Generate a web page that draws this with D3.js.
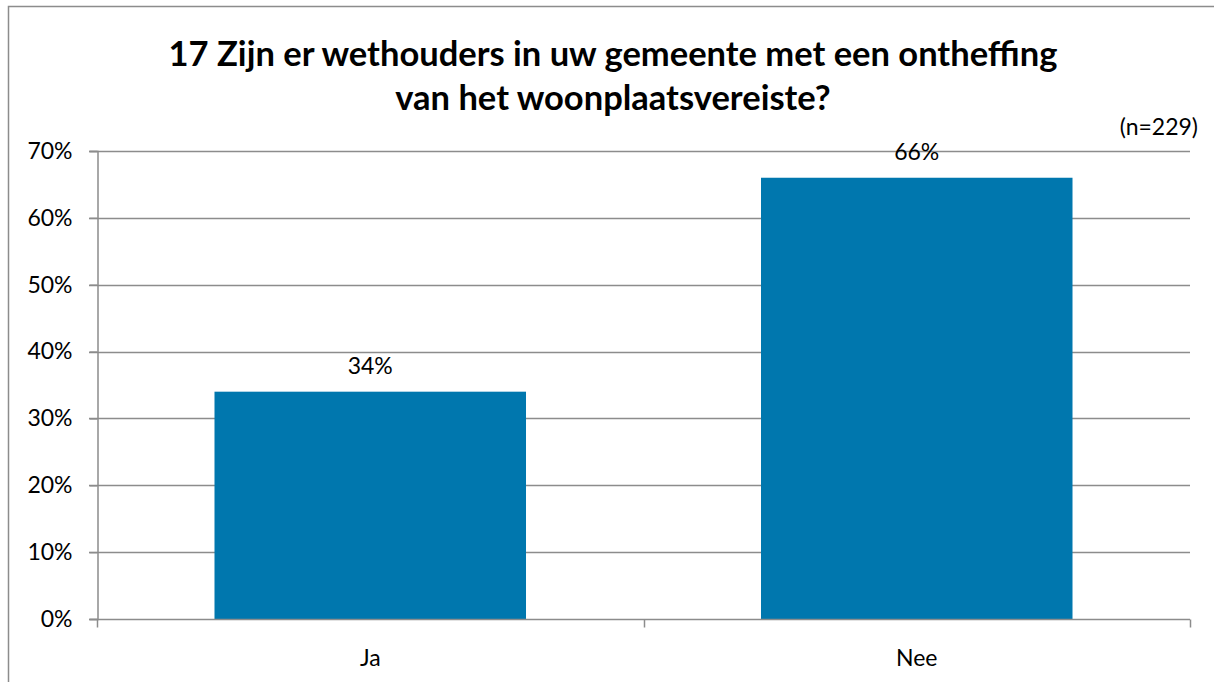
<!DOCTYPE html>
<html>
<head>
<meta charset="utf-8">
<script src="https://cdn.jsdelivr.net/npm/d3@7"></script>
<style>
  html, body { margin: 0; padding: 0; background: #fff; }
  svg { display: block; font-family: Lato, "Noto Sans", sans-serif; }
</style>
</head>
<body>
<svg id="chart" width="1214" height="682"></svg>
<script>
(function () {
  'use strict';

  const categories = ['Ja', 'Nee'];
  const values = [0.34, 0.66];
  const yTicks = [0, 0.1, 0.2, 0.3, 0.4, 0.5, 0.6, 0.7];
  const titleLines = ['17 Zijn er wethouders in uw gemeente met een ontheffing', 'van het woonplaatsvereiste?'];
  const note = '(n=229)';

  const BAR = '#0077ae';
  const GRID = '#8c8c8c';
  const FS = 23;

  const svg = d3.select('#chart');
  const plot = { left: 97, right: 1190, top: 151, bottom: 619 };

  // outer chart frame
  svg.append('rect')
    .attr('x', 8.5).attr('y', 6.5)
    .attr('width', 1220).attr('height', 700)
    .attr('fill', 'none').attr('stroke', '#8c8c8c').attr('stroke-width', 1.5);

  const x = d3.scaleBand().domain(categories).range([plot.left, plot.right]).paddingInner(0.43).paddingOuter(0.215);
  const xb = d3.scaleBand().domain(categories).range([plot.left, plot.right]);
  const y = d3.scaleLinear().domain([0, 0.7]).range([plot.bottom, plot.top]);

  // gridlines
  svg.append('g').selectAll('line')
    .data(yTicks.slice(1))
    .join('line')
    .attr('x1', plot.left - 8).attr('x2', plot.right)
    .attr('y1', d => Math.round(y(d)) + 0.5).attr('y2', d => Math.round(y(d)) + 0.5)
    .attr('stroke', GRID).attr('stroke-width', 1.5);

  // y axis
  const yAxis = svg.append('g')
    .attr('transform', `translate(${plot.left + 0.5},0)`)
    .call(d3.axisLeft(y).tickValues(yTicks).tickFormat(d3.format('.0%')).tickSize(8).tickPadding(17));
  yAxis.select('.domain').attr('stroke', GRID).attr('stroke-width', 1.5);
  yAxis.selectAll('.tick line').attr('stroke', GRID).attr('stroke-width', 1.5);
  yAxis.selectAll('.tick text').attr('font-size', FS).attr('fill', '#000').attr('font-family', 'Lato, sans-serif');

  // bars
  svg.append('g').selectAll('rect')
    .data(values)
    .join('rect')
    .attr('x', (d, i) => x(categories[i]))
    .attr('width', x.bandwidth())
    .attr('y', d => y(d))
    .attr('height', d => y(0) - y(d))
    .attr('fill', BAR);

  // x axis
  const xAxisG = svg.append('g').attr('transform', `translate(0,${plot.bottom + 0.5})`);
  xAxisG.append('line')
    .attr('x1', plot.left - 8).attr('x2', plot.right)
    .attr('stroke', GRID).attr('stroke-width', 1.5);
  const bounds = [plot.left, ...categories.slice(1).map(c => xb(c)), plot.right];
  xAxisG.selectAll('line.tk')
    .data(bounds)
    .join('line')
    .attr('class', 'tk')
    .attr('x1', d => Math.round(d) + 0.5).attr('x2', d => Math.round(d) + 0.5)
    .attr('y1', 0).attr('y2', 8)
    .attr('stroke', GRID).attr('stroke-width', 1.5);
  xAxisG.selectAll('text')
    .data(categories)
    .join('text')
    .attr('x', d => xb(d) + xb.bandwidth() / 2)
    .attr('y', 46)
    .attr('text-anchor', 'middle')
    .attr('font-size', FS)
    .text(d => d);

  // value labels
  svg.append('g').selectAll('text')
    .data(values)
    .join('text')
    .attr('x', (d, i) => x(categories[i]) + x.bandwidth() / 2)
    .attr('y', d => y(d) - 18)
    .attr('text-anchor', 'middle')
    .attr('font-size', FS)
    .text(d => d3.format('.0%')(d));

  // title
  svg.append('g').selectAll('text')
    .data(titleLines)
    .join('text')
    .attr('x', 613)
    .attr('y', (d, i) => 66 + i * 44)
    .attr('text-anchor', 'middle')
    .attr('font-size', 34.5)
    .attr('font-weight', 'bold')
    .text(d => d);

  svg.append('text')
    .attr('x', 1198).attr('y', 135)
    .attr('text-anchor', 'end')
    .attr('font-size', FS)
    .text(note);
})();
</script>
</body>
</html>
